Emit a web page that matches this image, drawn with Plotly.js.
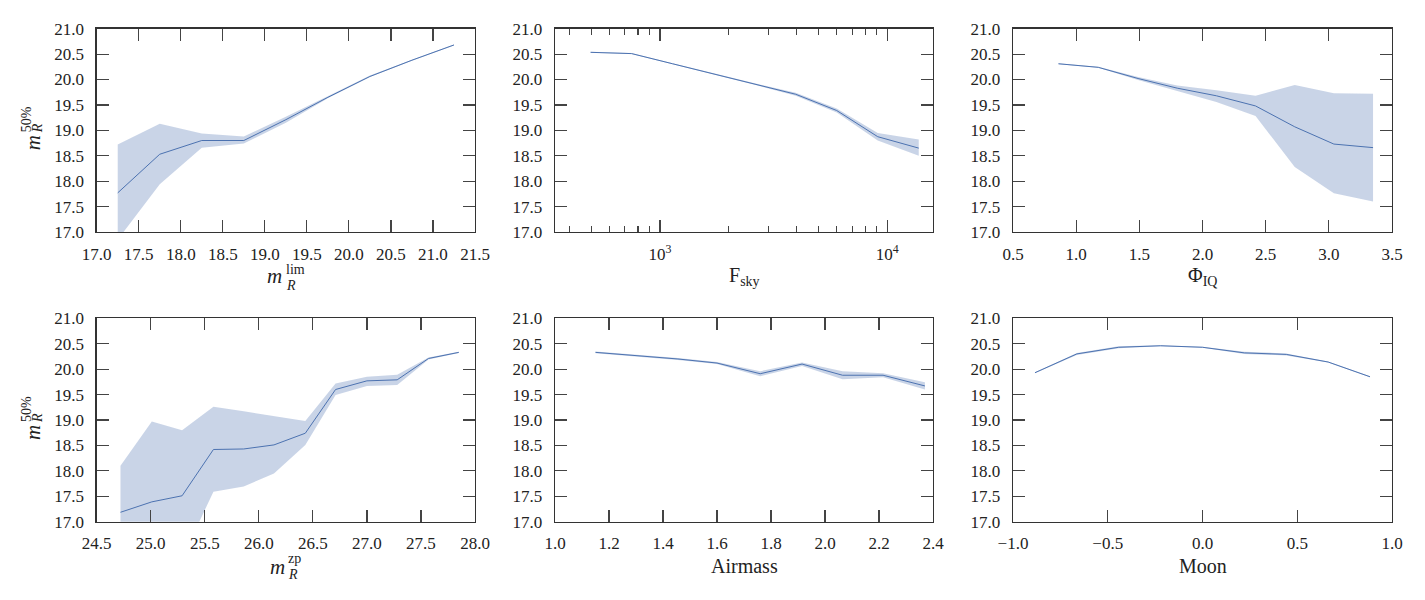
<!DOCTYPE html>
<html>
<head>
<meta charset="utf-8">
<script src="https://cdn.plot.ly/plotly-3.0.1.min.js"></script>
<style>html,body{margin:0;padding:0;background:#fff;}#chart{width:1425px;height:600px;}</style>
</head>
<body>
<div id="chart"></div>
<script>
// ---- data ----
const mlim_x   = [17.25, 17.75, 18.25, 18.75, 19.25, 19.75, 20.25, 20.75, 21.25];
const mlim_med = [17.77, 18.53, 18.80, 18.80, 19.21, 19.65, 20.06, 20.38, 20.68];
const mlim_lo  = [16.85, 17.94, 18.66, 18.74, 19.15, 19.63, 20.05, 20.37, 20.67];
const mlim_hi  = [18.72, 19.13, 18.94, 18.88, 19.27, 19.68, 20.08, 20.39, 20.69];

const fsky_x   = [495, 750, 1136, 1722, 2609, 3953, 5990, 9075, 13750];
const fsky_med = [20.535, 20.51, 20.31, 20.11, 19.91, 19.71, 19.39, 18.875, 18.65];
const fsky_lo  = [20.525, 20.50, 20.30, 20.10, 19.895, 19.68, 19.35, 18.80, 18.50];
const fsky_hi  = [20.545, 20.52, 20.32, 20.12, 19.925, 19.74, 19.43, 18.95, 18.82];

const iq_x   = [0.86, 1.175, 1.49, 1.80, 2.11, 2.42, 2.73, 3.04, 3.35];
const iq_med = [20.31, 20.24, 20.02, 19.83, 19.68, 19.48, 19.07, 18.73, 18.66];
const iq_lo  = [20.30, 20.23, 19.99, 19.78, 19.56, 19.28, 18.28, 17.76, 17.60];
const iq_hi  = [20.32, 20.25, 20.05, 19.88, 19.79, 19.68, 19.89, 19.73, 19.72];

const zp_x   = [24.72, 25.01, 25.29, 25.58, 25.86, 26.14, 26.43, 26.71, 27.00, 27.28, 27.57, 27.85];
const zp_med = [17.185, 17.39, 17.51, 18.42, 18.43, 18.51, 18.74, 19.60, 19.77, 19.79, 20.21, 20.33];
const zp_lo  = [15.90, 16.10, 16.28, 17.59, 17.69, 17.95, 18.51, 19.49, 19.67, 19.69, 20.19, 20.32];
const zp_hi  = [18.10, 18.97, 18.80, 19.26, 19.17, 19.08, 18.98, 19.72, 19.85, 19.89, 20.23, 20.34];

const air_x   = [1.15, 1.30, 1.455, 1.60, 1.76, 1.915, 2.065, 2.215, 2.37];
const air_med = [20.33, 20.27, 20.20, 20.12, 19.91, 20.10, 19.88, 19.88, 19.67];
const air_lo  = [20.315, 20.255, 20.18, 20.10, 19.86, 20.06, 19.80, 19.84, 19.60];
const air_hi  = [20.345, 20.285, 20.22, 20.14, 19.96, 20.13, 19.96, 19.92, 19.74];

const moon_x   = [-0.884, -0.663, -0.442, -0.221, 0.0, 0.221, 0.442, 0.663, 0.884];
const moon_med = [19.93, 20.30, 20.43, 20.46, 20.43, 20.32, 20.29, 20.14, 19.85];
const moon_lo  = [19.92, 20.28, 20.41, 20.45, 20.42, 20.30, 20.27, 20.13, 19.84];
const moon_hi  = [19.94, 20.32, 20.45, 20.47, 20.44, 20.34, 20.31, 20.15, 19.86];

const fsky_major = [1000, 10000];
const fsky_major_text = ['10<sup>3</sup>', '10<sup>4</sup>'];
const fsky_minor = [400, 500, 600, 700, 800, 900, 2000, 3000, 4000, 5000, 6000, 7000, 8000, 9000];

// ---- styling / layout ----
const W = 1425, H = 600;
const LINE = '#4c72b0';
const BAND = 'rgba(76,114,176,0.30)';
const FONT = 'Liberation Serif, Times New Roman, serif';
const colDom = [[96.7, 475], [555, 933], [1013, 1392]].map(d => [d[0] / W, d[1] / W]);
const rowDom = [[28.7, 232], [318.3, 521.7]].map(d => [1 - d[1] / H, 1 - d[0] / H]);

const panels = [
  {x: mlim_x, med: mlim_med, lo: mlim_lo, hi: mlim_hi, range: [17, 21.5], dtick: 0.5, row: 0, col: 0},
  {x: fsky_x, med: fsky_med, lo: fsky_lo, hi: fsky_hi, range: [2.538, 4.201], log: true, row: 0, col: 1},
  {x: iq_x, med: iq_med, lo: iq_lo, hi: iq_hi, range: [0.5, 3.5], dtick: 0.5, row: 0, col: 2},
  {x: zp_x, med: zp_med, lo: zp_lo, hi: zp_hi, range: [24.5, 28.0], dtick: 0.5, row: 1, col: 0},
  {x: air_x, med: air_med, lo: air_lo, hi: air_hi, range: [1.0, 2.4], dtick: 0.2, row: 1, col: 1},
  {x: moon_x, med: moon_med, lo: moon_lo, hi: moon_hi, range: [-1, 1], dtick: 0.5, row: 1, col: 2}
];

const data = [];
const layout = {
  width: W, height: H,
  margin: {l: 0, r: 0, t: 0, b: 0},
  paper_bgcolor: '#fff', plot_bgcolor: '#fff',
  showlegend: false,
  font: {family: FONT, size: 17, color: '#222'},
  annotations: []
};

const common = {
  ticks: 'inside', ticklen: 12, tickwidth: 1.2, tickcolor: '#444',
  showline: true, linecolor: '#333', linewidth: 1.3, mirror: 'ticks',
  showgrid: false, zeroline: false, fixedrange: true,
  tickfont: {family: FONT, size: 17, color: '#222'}
};

panels.forEach((p, i) => {
  const n = i + 1;
  const xa = 'x' + (n === 1 ? '' : n), ya = 'y' + (n === 1 ? '' : n);
  data.push({x: p.x, y: p.lo, xaxis: xa, yaxis: ya, mode: 'lines', line: {width: 0, color: BAND}, hoverinfo: 'skip'});
  data.push({x: p.x, y: p.hi, xaxis: xa, yaxis: ya, mode: 'lines', line: {width: 0, color: BAND}, fill: 'tonexty', fillcolor: BAND, hoverinfo: 'skip'});
  data.push({x: p.x, y: p.med, xaxis: xa, yaxis: ya, mode: 'lines', line: {width: 1, color: LINE}});

  const xax = Object.assign({}, common, {
    domain: colDom[p.col], anchor: ya, range: p.range, ticklabelstandoff: 6
  });
  if (p.log) {
    Object.assign(xax, {
      type: 'log', tickmode: 'array', tickvals: fsky_major, ticktext: fsky_major_text,
      minor: {tickmode: 'array', tickvals: fsky_minor, ticks: 'inside', ticklen: 6, tickwidth: 1.1, tickcolor: '#444'}
    });
  } else {
    Object.assign(xax, {tickmode: 'linear', tick0: p.range[0], dtick: p.dtick, tickformat: '.1f'});
  }
  const yax = Object.assign({}, common, {
    domain: rowDom[p.row], anchor: xa, range: [17, 21], tickmode: 'linear', tick0: 17, dtick: 0.5,
    tickformat: '.1f', ticklabelstandoff: 8
  });
  layout['xaxis' + (n === 1 ? '' : n)] = xax;
  layout['yaxis' + (n === 1 ? '' : n)] = yax;
});

// ---- axis titles (as annotations) ----
function ann(n, text, size, xanchor, xshift, yshift, extra) {
  const s = n === 1 ? '' : n;
  return Object.assign({
    xref: 'x' + s + ' domain', yref: 'y' + s + ' domain', x: 0.5, y: 0,
    text: text, showarrow: false, xanchor: xanchor, yanchor: 'middle', borderpad: 0,
    xshift: xshift, yshift: yshift, font: {family: FONT, size: size, color: '#222'}
  }, extra || {});
}
const A = layout.annotations;
// m_R^lim
A.push(ann(1, '<i>m</i>', 21, 'center', -11, -44));
A.push(ann(1, 'lim', 14, 'left', -1, -37));
A.push(ann(1, '<i>R</i>', 14, 'left', -1, -53));
// F_sky
A.push(ann(2, 'F<sub>sky</sub>', 20, 'center', 0, -44));
// Phi_IQ
A.push(ann(3, 'Φ<sub>IQ</sub>', 20, 'center', 0, -44));
// m_R^zp
A.push(ann(4, '<i>m</i>', 21, 'center', -8, -45));
A.push(ann(4, 'zp', 14, 'left', 1, -37));
A.push(ann(4, '<i>R</i>', 14, 'left', 1, -53));
// Airmass, Moon
A.push(ann(5, 'Airmass', 20, 'center', 0, -44));
A.push(ann(6, 'Moon', 20, 'center', 0, -44));

// y titles m_R^{50%} for both rows
[1, 4].forEach(n => {
  const s = n === 1 ? '' : n;
  const base = {xref: 'paper', yref: 'y' + s + ' domain', y: 0.5, showarrow: false, borderpad: 0,
    xanchor: 'center', yanchor: 'middle', textangle: -90};
  A.push(Object.assign({}, base, {x: 33 / W, yshift: -13, text: '<i>m</i>', font: {family: FONT, size: 21, color: '#222'}}));
  A.push(Object.assign({}, base, {x: 37 / W, yshift: 2, text: '<i>R</i>', font: {family: FONT, size: 14, color: '#222'}}));
  A.push(Object.assign({}, base, {x: 26 / W, yshift: 11, text: '50%', font: {family: FONT, size: 14, color: '#222'}}));
});

Plotly.newPlot('chart', data, layout, {staticPlot: true, displayModeBar: false});
</script>
</body>
</html>
